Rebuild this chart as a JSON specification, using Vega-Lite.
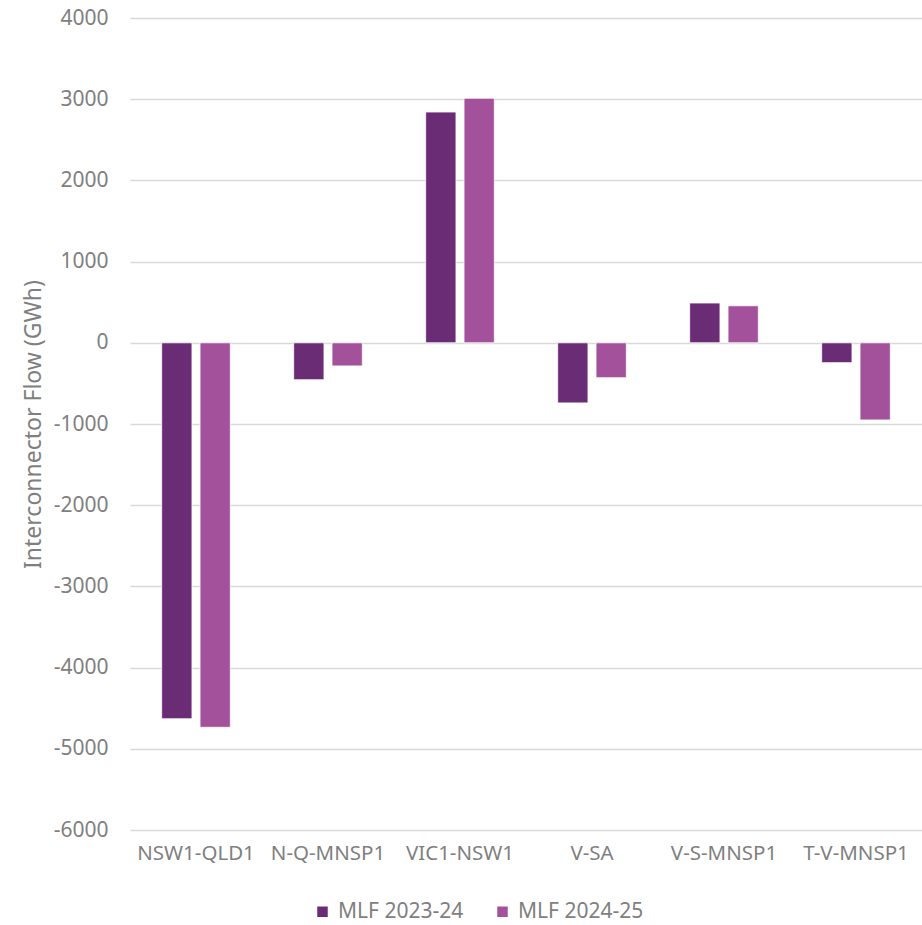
{
  "$schema": "https://vega.github.io/schema/vega-lite/v6.json",
  "width": 792,
  "height": 812,
  "autosize": "none",
  "padding": {"left": 130, "top": 18, "right": 0, "bottom": 95},
  "background": "white",
  "config": {
    "view": {"stroke": null},
    "font": "Noto Sans"
  },
  "data": {
    "values": [
      {"interconnector": "NSW1-QLD1", "series": "MLF 2023-24", "flow": -4630},
      {"interconnector": "NSW1-QLD1", "series": "MLF 2024-25", "flow": -4735},
      {"interconnector": "N-Q-MNSP1", "series": "MLF 2023-24", "flow": -455},
      {"interconnector": "N-Q-MNSP1", "series": "MLF 2024-25", "flow": -285},
      {"interconnector": "VIC1-NSW1", "series": "MLF 2023-24", "flow": 2842},
      {"interconnector": "VIC1-NSW1", "series": "MLF 2024-25", "flow": 3012},
      {"interconnector": "V-SA", "series": "MLF 2023-24", "flow": -740},
      {"interconnector": "V-SA", "series": "MLF 2024-25", "flow": -430},
      {"interconnector": "V-S-MNSP1", "series": "MLF 2023-24", "flow": 490},
      {"interconnector": "V-S-MNSP1", "series": "MLF 2024-25", "flow": 456},
      {"interconnector": "T-V-MNSP1", "series": "MLF 2023-24", "flow": -245},
      {"interconnector": "T-V-MNSP1", "series": "MLF 2024-25", "flow": -950}
    ]
  },
  "mark": {"type": "bar", "stroke": "white", "strokeWidth": 0.8},
  "encoding": {
    "x": {
      "field": "interconnector",
      "type": "nominal",
      "sort": null,
      "scale": {"paddingInner": 0.48, "paddingOuter": 0.24},
      "axis": {
        "title": null,
        "labelAngle": 0,
        "labelFontSize": 20.5,
        "labelColor": "#7F7F7F",
        "labelPadding": 13,
        "ticks": false,
        "domain": false,
        "grid": false
      }
    },
    "xOffset": {
      "field": "series",
      "type": "nominal",
      "scale": {"paddingInner": 0.21, "paddingOuter": 0}
    },
    "y": {
      "field": "flow",
      "type": "quantitative",
      "scale": {"domain": [-6000, 4000], "nice": false},
      "axis": {
        "title": "Interconnector Flow (GWh)",
        "titleFontSize": 23,
        "titleFontWeight": "normal",
        "titleColor": "#7F7F7F",
        "titlePadding": 8,
        "values": [-6000, -5000, -4000, -3000, -2000, -1000, 0, 1000, 2000, 3000, 4000],
        "labelExpr": "'' + datum.value",
        "labelFontSize": 21,
        "labelColor": "#7F7F7F",
        "labelPadding": 22,
        "ticks": false,
        "domain": false,
        "gridColor": "#D9D9D9",
        "gridWidth": 1.5
      }
    },
    "color": {
      "field": "series",
      "type": "nominal",
      "scale": {"range": ["#6A2C75", "#A4519C"]},
      "legend": {
        "title": null,
        "orient": "none",
        "legendX": 182,
        "legendY": 883,
        "direction": "horizontal",
        "symbolType": "square",
        "symbolSize": 110,
        "symbolStrokeWidth": 0,
        "labelFontSize": 21,
        "labelColor": "#7F7F7F",
        "columnPadding": 28,
        "labelOffset": 5
      }
    }
  }
}
